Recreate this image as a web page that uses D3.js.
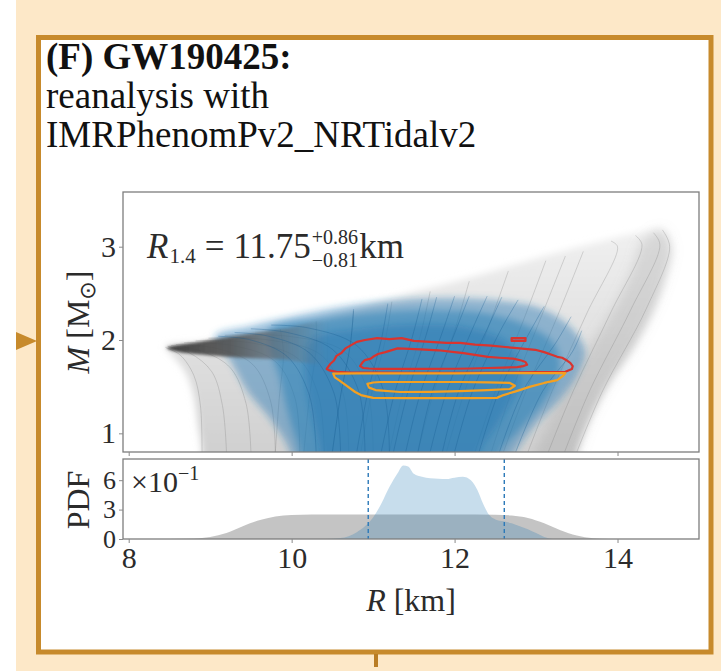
<!DOCTYPE html>
<html>
<head>
<meta charset="utf-8">
<script src="https://cdn.jsdelivr.net/npm/d3@7"></script>
<style>
  html, body { margin: 0; padding: 0; background: #ffffff; }
  svg { display: block; }
  text { font-family: "Liberation Serif", "Times New Roman", serif; }
</style>
</head>
<body>
<svg id="fig" width="721" height="671"></svg>
<script>
// ---------------- data ----------------
const titleLines = ["(F) GW190425:", "reanalysis with", "IMRPhenomPv2_NRTidalv2"];

const radiusTicks = [8, 10, 12, 14];
const massTicks = [1, 2, 3];
const pdfTicks = [0, 0.3, 0.6];           // labelled in units of 10^-1
const pdfExponent = -1;

const r14Median = 11.75;
const r14Plus = 0.86;
const r14Minus = 0.81;

// marginal PDF of R (prior, grey)
const priorR   = [8.5, 8.8, 9.0, 9.2, 9.4, 9.6, 9.8, 10.0, 10.5, 11.0, 11.5, 12.0, 12.5, 12.7, 12.9, 13.1, 13.3, 13.5, 13.7, 13.9];
const priorPdf = [0, 0.005, 0.02, 0.06, 0.13, 0.19, 0.23, 0.245, 0.25, 0.25, 0.25, 0.25, 0.248, 0.24, 0.215, 0.16, 0.09, 0.035, 0.008, 0];

// marginal PDF of R (posterior, blue)
const postR   = [10.4, 10.6, 10.8, 10.9, 11.0, 11.1, 11.2, 11.3, 11.37, 11.43, 11.5, 11.6, 11.7, 11.8, 11.9, 12.0, 12.1, 12.2, 12.28, 12.35, 12.42, 12.5, 12.6, 12.7, 12.8, 12.9, 13.0, 13.1, 13.2];
const postPdf = [0, 0.01, 0.07, 0.13, 0.22, 0.36, 0.53, 0.67, 0.75, 0.74, 0.665, 0.635, 0.62, 0.615, 0.612, 0.625, 0.635, 0.6, 0.5, 0.36, 0.25, 0.2, 0.18, 0.16, 0.13, 0.1, 0.06, 0.02, 0];

// prior mass-radius curves [R km, M Msun], from low mass up to maximum mass
const priorCurves = [
  // soft equations of state, maximum mass near 1.9-2.05
  [[8.9,0.8],[8.88,1.3],[8.8,1.62],[8.63,1.84],[8.45,1.92]],
  [[9.2,0.8],[9.15,1.3],[9.02,1.66],[8.75,1.86],[8.48,1.93]],
  [[9.5,0.8],[9.44,1.32],[9.25,1.7],[8.9,1.88],[8.52,1.94]],
  [[9.8,0.8],[9.74,1.35],[9.52,1.74],[9.08,1.91],[8.58,1.95]],
  [[10.1,0.8],[10.04,1.38],[9.8,1.77],[9.28,1.94],[8.68,1.97]],
  [[10.4,0.8],[10.33,1.4],[10.08,1.8],[9.5,1.97],[8.82,1.99]],
  [[10.7,0.8],[10.63,1.43],[10.36,1.84],[9.72,2.0],[8.98,2.02]],
  [[11.0,0.8],[10.93,1.46],[10.64,1.88],[9.96,2.04],[9.18,2.05]],
  // stiffer equations of state
  [[9.8,0.8],[9.85,1.4],[9.9,1.85],[9.86,2.12]],
  [[10.15,0.8],[10.22,1.4],[10.3,1.9],[10.3,2.2]],
  [[10.5,0.8],[10.6,1.4],[10.72,1.95],[10.76,2.31]],
  [[10.85,0.8],[10.98,1.42],[11.15,2.0],[11.23,2.41]],
  [[11.2,0.8],[11.36,1.42],[11.58,2.05],[11.7,2.52]],
  [[11.55,0.8],[11.74,1.43],[12.0,2.1],[12.18,2.63]],
  [[11.9,0.8],[12.12,1.44],[12.42,2.15],[12.66,2.74]],
  [[12.25,0.8],[12.5,1.45],[12.84,2.2],[13.12,2.85]],
  [[12.45,0.8],[12.7,1.45],[13.05,2.22],[13.36,2.9]],
  [[12.6,0.8],[12.88,1.46],[13.26,2.25],[13.58,2.95]],
  [[12.9,0.8],[13.2,1.46],[13.62,2.28],[14.0,3.0],[13.92,3.06]],
  [[13.15,0.8],[13.46,1.46],[13.92,2.3],[14.3,3.02],[14.22,3.12]],
  [[13.35,0.8],[13.66,1.46],[14.16,2.32],[14.52,3.02],[14.44,3.15]],
  [[13.5,0.8],[13.82,1.46],[14.35,2.33],[14.64,3.0],[14.55,3.18]]
];

// posterior mass-radius curves
const posteriorCurves = [
  [[10.3,0.8],[10.22,1.4],[9.95,1.82],[9.5,2.0],[9.1,2.04]],
  [[10.6,0.8],[10.52,1.43],[10.22,1.86],[9.72,2.04],[9.3,2.08]],
  [[10.9,0.8],[10.82,1.46],[10.5,1.9],[9.95,2.08],[9.5,2.12]],
  [[11.2,0.8],[11.12,1.48],[10.8,1.94],[10.2,2.13],[9.75,2.16]],
  [[10.5,0.8],[10.6,1.4],[10.72,1.95],[10.76,2.33]],
  [[10.8,0.8],[10.93,1.42],[11.1,2.0],[11.18,2.39]],
  [[11.1,0.8],[11.26,1.42],[11.48,2.03],[11.6,2.44]],
  [[11.25,0.8],[11.42,1.42],[11.65,2.05],[11.78,2.46]],
  [[11.4,0.8],[11.58,1.43],[11.84,2.06],[12.0,2.47]],
  [[11.55,0.8],[11.72,1.43],[12.0,2.07],[12.18,2.47]],
  [[11.7,0.8],[11.9,1.44],[12.2,2.08],[12.4,2.47]],
  [[11.85,0.8],[12.05,1.45],[12.38,2.08],[12.58,2.46]],
  [[12.0,0.8],[12.22,1.45],[12.55,2.08],[12.78,2.43]],
  [[12.3,0.8],[12.55,1.46],[12.9,2.05],[13.1,2.36]],
  [[12.55,0.8],[12.85,1.47],[13.25,1.98],[13.43,2.25]],
  [[12.75,0.8],[13.08,1.45],[13.45,1.88],[13.56,2.1]]
];

// outline of the whole prior band
const priorEnvelope = [
  [8.45,1.93],[8.9,1.98],[9.4,2.05],[9.9,2.13],[10.4,2.24],[10.9,2.36],[11.4,2.49],[11.9,2.6],
  [12.4,2.72],[12.9,2.85],[13.4,2.97],[13.9,3.08],[14.3,3.16],[14.55,3.18],[14.66,3.0],[14.6,2.7],
  [14.43,2.3],[14.2,1.93],[13.87,1.5],[13.66,1.15],[13.5,0.8],[13.45,0.6],[8.9,0.6],[8.9,0.8],
  [8.85,1.1],[8.8,1.4],[8.7,1.65],[8.55,1.82]
];

// pile-up of the stiffest curves along the right edge of the band
const stiffEdge = [
  [13.45,0.6],[13.52,0.8],[13.66,1.15],[13.87,1.5],[14.2,1.93],[14.43,2.3],[14.6,2.7],[14.66,3.0],
  [14.55,3.18],[14.3,3.05],[14.2,2.8],[13.98,2.38],[13.7,1.98],[13.38,1.52],[13.15,1.12],[12.95,0.6]
];

// pile-up of the maximum-mass ends of the soft curves
const softTips = [
  [8.47,1.915],[8.9,1.985],[9.4,2.055],[9.9,2.12],[10.45,2.18],[10.45,1.77],[9.9,1.79],[9.4,1.81],[8.9,1.845],[8.6,1.875]
];

// posterior density levels (outer, middle, core)
const postOuter = [
  [9.06,2.04],[9.49,2.15],[10.1,2.27],[10.72,2.37],[11.33,2.43],[11.94,2.45],[12.56,2.42],[13.05,2.34],
  [13.42,2.14],[13.6,1.89],[13.51,1.63],[13.29,1.36],[12.99,1.09],[12.74,0.8],[12.6,0.6],[9.98,0.6],
  [9.98,0.8],[9.75,1.14],[9.45,1.46],[9.24,1.79]
];
const postMiddle = [
  [9.73,2.11],[10.35,2.22],[11.08,2.3],[11.82,2.32],[12.43,2.28],[12.93,2.14],[13.23,1.95],[13.29,1.68],
  [13.11,1.36],[12.8,1.04],[12.56,0.8],[12.5,0.6],[10.1,0.6],[10.1,0.8],[9.98,1.14],[9.86,1.57]
];
const postCore = [
  [10.23,2.0],[10.84,2.12],[11.58,2.17],[12.19,2.13],[12.68,1.95],[12.8,1.57],[12.56,1.14],[12.31,0.8],
  [12.3,0.6],[10.35,0.6],[10.35,0.8],[10.23,1.25],[10.16,1.68]
];

// credible contours
const redOuter = [
  [10.43,1.69],[10.47,1.74],[10.52,1.78],[10.55,1.83],[10.61,1.86],[10.66,1.91],[10.72,1.94],[10.8,1.98],
  [10.9,2.0],[11.05,2.02],[11.2,2.01],[11.35,2.02],[11.5,1.99],[11.7,1.98],[11.9,1.97],[12.07,1.97],
  [12.25,1.95],[12.45,1.94],[12.62,1.925],[12.8,1.91],[12.99,1.895],[13.1,1.87],[13.2,1.84],[13.26,1.82],
  [13.32,1.81],[13.38,1.78],[13.42,1.755],[13.45,1.72],[13.44,1.69],[13.36,1.66],[13.0,1.655],[12.5,1.65],
  [12.0,1.648],[11.5,1.648],[11.0,1.65],[10.72,1.65],[10.55,1.66],[10.46,1.675]
];
const redInner = [
  [10.84,1.72],[10.87,1.76],[10.9,1.785],[10.97,1.8],[11.0,1.82],[11.06,1.85],[11.15,1.87],[11.3,1.91],
  [11.45,1.905],[11.58,1.9],[11.8,1.89],[12.0,1.87],[12.11,1.86],[12.25,1.84],[12.41,1.82],[12.55,1.81],
  [12.72,1.8],[12.82,1.78],[12.87,1.765],[12.89,1.735],[12.84,1.72],[12.77,1.71],[12.6,1.705],[12.41,1.7],
  [12.2,1.695],[12.0,1.692],[11.6,1.69],[11.2,1.69],[11.05,1.69],[10.95,1.695],[10.88,1.7]
];
const redIsland = [[12.7,2.02],[12.87,2.02],[12.87,1.99],[12.7,1.99]];
const orangeOuter = [
  [10.51,1.64],[10.8,1.642],[11.2,1.642],[11.6,1.643],[12.0,1.643],[12.4,1.645],[12.8,1.645],[13.1,1.646],
  [13.36,1.646],[13.33,1.615],[13.26,1.57],[13.1,1.54],[12.93,1.5],[12.75,1.45],[12.6,1.41],[12.52,1.38],
  [12.2,1.378],[11.8,1.378],[11.4,1.378],[11.0,1.38],[10.85,1.41],[10.78,1.443],[10.66,1.52],[10.58,1.57],[10.53,1.6]
];
const orangeInner = [
  [10.93,1.53],[11.0,1.545],[11.09,1.55],[11.37,1.55],[11.8,1.55],[12.07,1.55],[12.4,1.545],[12.68,1.54],
  [12.74,1.51],[12.68,1.475],[12.4,1.462],[12.07,1.453],[11.7,1.445],[11.33,1.443],[11.03,1.464],[10.95,1.49]
];

// ---------------- layout ----------------
const svg = d3.select("#fig");
const main = { left: 123, right: 699, top: 192, bottom: 452 };
const lower = { top: 459, bottom: 539 };

const x  = d3.scaleLinear().domain([7.93, 15.0]).range([main.left, main.right]);
const yM = d3.scaleLinear().domain([0.8, 3.586]).range([main.bottom, main.top]);
const yP = d3.scaleLinear().domain([0, 0.816]).range([lower.bottom, lower.top]);

const gold = "#c78a2c";
const ink = "#2b2b2b";
const defs = svg.append("defs");

defs.append("filter").attr("id", "soft")
  .attr("x", "-10%").attr("y", "-10%").attr("width", "120%").attr("height", "120%")
  .append("feGaussianBlur").attr("stdDeviation", 3.5);
defs.append("filter").attr("id", "wide")
  .attr("x", "-20%").attr("y", "-10%").attr("width", "140%").attr("height", "120%")
  .append("feGaussianBlur").attr("stdDeviation", 6);
defs.append("filter").attr("id", "softer")
  .attr("x", "-10%").attr("y", "-30%").attr("width", "120%").attr("height", "160%")
  .append("feGaussianBlur").attr("stdDeviation", 1.8);

defs.append("clipPath").attr("id", "mainClip")
  .append("rect")
  .attr("x", main.left).attr("y", main.top)
  .attr("width", main.right - main.left).attr("height", main.bottom - main.top);

const bandGrad = defs.append("linearGradient").attr("id", "bandGrad")
  .attr("gradientUnits", "userSpaceOnUse")
  .attr("x1", 0).attr("x2", 0).attr("y1", yM(3.2)).attr("y2", yM(0.8));
bandGrad.append("stop").attr("offset", 0).attr("stop-color", "#f0f0f0");
bandGrad.append("stop").attr("offset", 0.45).attr("stop-color", "#e2e2e2");
bandGrad.append("stop").attr("offset", 1).attr("stop-color", "#d0d0d0");

const tipGrad = defs.append("linearGradient").attr("id", "tipGrad")
  .attr("gradientUnits", "userSpaceOnUse")
  .attr("x1", x(8.47)).attr("x2", x(10.45)).attr("y1", 0).attr("y2", 0);
tipGrad.append("stop").attr("offset", 0).attr("stop-color", "#404040").attr("stop-opacity", 1);
tipGrad.append("stop").attr("offset", 0.4).attr("stop-color", "#545454").attr("stop-opacity", 0.9);
tipGrad.append("stop").attr("offset", 0.72).attr("stop-color", "#62686e").attr("stop-opacity", 0.55);
tipGrad.append("stop").attr("offset", 1).attr("stop-color", "#6c737a").attr("stop-opacity", 0);

// ---------------- card ----------------
svg.append("rect").attr("x", 16).attr("y", 0).attr("width", 705).attr("height", 671).attr("fill", "#fde8c8");
svg.append("rect").attr("x", 38.5).attr("y", 37.5).attr("width", 672.5).attr("height", 614.5)
  .attr("fill", "#ffffff").attr("stroke", gold).attr("stroke-width", 5);
svg.append("path").attr("d", "M16,332 L37,341 L16,350 Z").attr("fill", gold);
svg.append("rect").attr("x", 374).attr("y", 654).attr("width", 4).attr("height", 13).attr("fill", "#b97c24");

const title = svg.append("g").attr("fill", "#111");
const titleBase = [69, 108, 147];
titleLines.forEach((s, i) => {
  title.append("text")
    .attr("x", 46).attr("y", titleBase[i])
    .style("font-size", "37px")
    .style("font-weight", i === 0 ? "bold" : "normal")
    .text(s);
});

// ---------------- main panel ----------------
const mr = d3.line().x(d => x(d[0])).y(d => yM(d[1])).curve(d3.curveCatmullRom.alpha(0.5));
const closed = d3.line().x(d => x(d[0])).y(d => yM(d[1])).curve(d3.curveLinearClosed);
const closedSmooth = d3.line().x(d => x(d[0])).y(d => yM(d[1])).curve(d3.curveCatmullRomClosed.alpha(0.5));

const plot = svg.append("g").attr("clip-path", "url(#mainClip)");

plot.append("path").attr("d", closedSmooth(priorEnvelope))
  .attr("fill", "url(#bandGrad)").attr("filter", "url(#soft)");
plot.append("path").attr("d", closedSmooth(stiffEdge))
  .attr("fill", "#9a9a9a").attr("fill-opacity", 0.28).attr("filter", "url(#wide)");

plot.append("g").selectAll("path").data(priorCurves).join("path")
  .attr("d", mr).attr("fill", "none")
  .attr("stroke", "#7a7a7a").attr("stroke-opacity", 0.28).attr("stroke-width", 1);

const postG = plot.append("g").attr("filter", "url(#soft)");
[[postOuter, 0.45], [postMiddle, 0.45], [postCore, 0.45]].forEach(([poly, a]) => {
  postG.append("path").attr("d", closedSmooth(poly)).attr("fill", "#1f77b4").attr("fill-opacity", a);
});

plot.append("path").attr("d", closedSmooth(softTips))
  .attr("fill", "url(#tipGrad)").attr("filter", "url(#softer)");

plot.append("g").selectAll("path").data(posteriorCurves).join("path")
  .attr("d", mr).attr("fill", "none")
  .attr("stroke", "#15598f").attr("stroke-opacity", 0.3).attr("stroke-width", 1);

const contours = plot.append("g").attr("fill", "none").attr("stroke-width", 2.2).attr("stroke-linejoin", "round");
[redOuter, redInner, redIsland].forEach(c => contours.append("path").attr("d", closed(c)).attr("stroke", "#d9342f"));
[orangeOuter, orangeInner].forEach(c => contours.append("path").attr("d", closed(c)).attr("stroke", "#f5a020"));

// frame and axes of the main panel
svg.append("rect").attr("x", main.left).attr("y", main.top)
  .attr("width", main.right - main.left).attr("height", main.bottom - main.top)
  .attr("fill", "none").attr("stroke", "#7d7d7d").attr("stroke-width", 1.3);

function styleAxis(size) {
  return g => {
    g.select(".domain").remove();
    g.selectAll(".tick line").attr("stroke", "#8a8a8a").attr("stroke-width", 1);
    g.selectAll(".tick text").attr("fill", ink)
      .style("font-family", "'Liberation Serif', serif").style("font-size", size + "px");
  };
}

svg.append("g").attr("transform", `translate(${main.left},0)`)
  .call(d3.axisLeft(yM).tickValues(massTicks).tickSize(4).tickPadding(3).tickFormat(d3.format("d")))
  .call(styleAxis(30));
svg.append("g").attr("transform", `translate(0,${main.bottom})`)
  .call(d3.axisBottom(x).tickValues(radiusTicks).tickSize(4).tickFormat(""))
  .call(styleAxis(30));

// R_1.4 annotation
const ann = svg.append("g").attr("fill", ink);
let cx = 147;
const annBase = 258;
function put(str, size, dy, italic, atX) {
  const t = ann.append("text").attr("x", atX === undefined ? cx : atX).attr("y", annBase + dy)
    .style("font-size", size + "px").style("font-style", italic ? "italic" : "normal").text(str);
  return t.node().getComputedTextLength();
}
cx += put("R", 35, 0, true) + 1;
cx += put("1.4", 21, 5, false) + 9;
cx += put("=", 35, 0, false) + 9;
cx += put(r14Median.toFixed(2), 35, 0, false) + 1;
const wSup = put("+" + r14Plus.toFixed(2), 20, -14, false);
const wSub = put("\u2212" + r14Minus.toFixed(2), 20, 9, false);
cx += Math.max(wSup, wSub) + 1;
put("km", 35, 0, false);

// y label of main panel
const ylab = svg.append("text").attr("fill", ink)
  .attr("transform", `translate(89,322) rotate(-90)`).attr("text-anchor", "middle")
  .style("font-size", "32px");
ylab.append("tspan").style("font-style", "italic").text("M");
ylab.append("tspan").text(" [M");
ylab.append("tspan").attr("dy", 6).style("font-size", "22px").style("font-family", "'DejaVu Sans', sans-serif").text("\u2299");
ylab.append("tspan").attr("dy", -6).text("]");

// ---------------- PDF panel ----------------
defs.append("clipPath").attr("id", "pdfClip").append("rect")
  .attr("x", main.left).attr("y", lower.top).attr("width", main.right - main.left).attr("height", lower.bottom - lower.top);

const area = d3.area().x(d => x(d[0])).y0(yP(0)).y1(d => yP(d[1])).curve(d3.curveMonotoneX);
const pdfG = svg.append("g").attr("clip-path", "url(#pdfClip)");
pdfG.append("path").attr("d", area(d3.zip(priorR, priorPdf))).attr("fill", "#8a8a8a").attr("fill-opacity", 0.5);
pdfG.append("path").attr("d", area(d3.zip(postR, postPdf))).attr("fill", "#1f77b4").attr("fill-opacity", 0.25);

[r14Median - r14Minus, r14Median + r14Plus].forEach(v => {
  pdfG.append("line").attr("x1", x(v)).attr("x2", x(v)).attr("y1", yP.range()[1]).attr("y2", yP.range()[0])
    .attr("stroke", "#2a78b8").attr("stroke-width", 1.4).attr("stroke-dasharray", "4,3");
});

svg.append("rect").attr("x", main.left).attr("y", lower.top)
  .attr("width", main.right - main.left).attr("height", lower.bottom - lower.top)
  .attr("fill", "none").attr("stroke", "#7d7d7d").attr("stroke-width", 1.3);

svg.append("g").attr("transform", `translate(${main.left},0)`)
  .call(d3.axisLeft(yP).tickValues(pdfTicks).tickSize(4).tickPadding(3)
    .tickFormat(d => d3.format("d")(Math.round(d / Math.pow(10, pdfExponent)))))
  .call(styleAxis(26));
svg.append("g").attr("transform", `translate(0,${lower.bottom})`)
  .call(d3.axisBottom(x).tickValues(radiusTicks).tickSize(4).tickPadding(4).tickFormat(d3.format("d")))
  .call(styleAxis(30));

// offset text ×10^-1
const off = svg.append("text").attr("x", 131).attr("y", 492).attr("fill", ink).style("font-size", "30px");
off.append("tspan").text("\u00d710");
off.append("tspan").attr("dy", -12).style("font-size", "20px").text("\u2212" + Math.abs(pdfExponent));

svg.append("text").attr("fill", ink)
  .attr("transform", `translate(89,500) rotate(-90)`).attr("text-anchor", "middle")
  .style("font-size", "32px").text("PDF");

const xlab = svg.append("text").attr("x", 411).attr("y", 611).attr("text-anchor", "middle")
  .attr("fill", ink).style("font-size", "32px");
xlab.append("tspan").style("font-style", "italic").text("R");
xlab.append("tspan").text(" [km]");
</script>
</body>
</html>
